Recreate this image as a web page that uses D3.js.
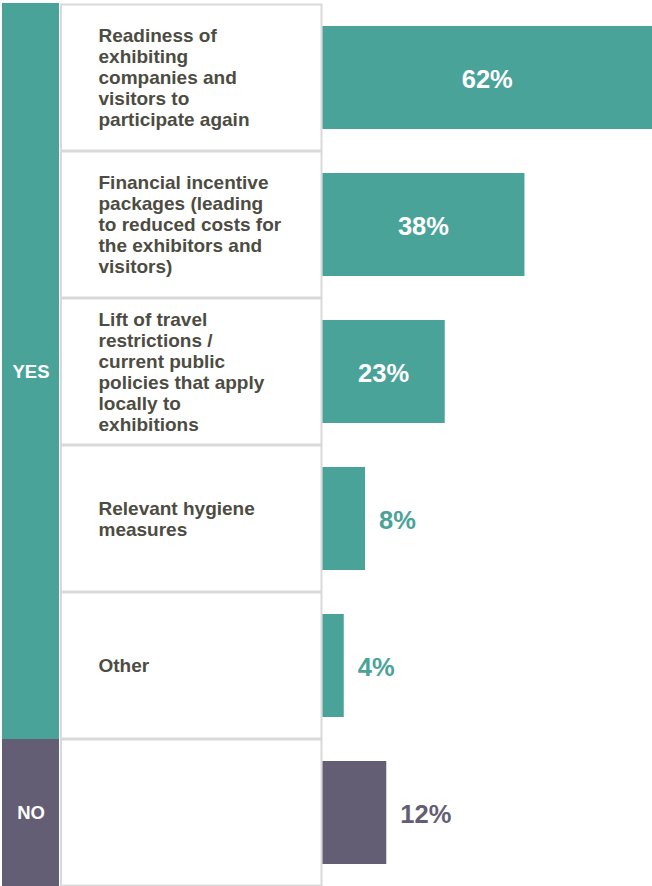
<!DOCTYPE html>
<html>
<head>
<meta charset="utf-8">
<script src="https://cdn.jsdelivr.net/npm/d3@7"></script>
<style>
  html, body { margin: 0; padding: 0; background: #ffffff; }
  svg { display: block; }
</style>
</head>
<body>
<script>
// ---- data ----
const categories = [
  ["Readiness of", "exhibiting", "companies and", "visitors to", "participate again"],
  ["Financial incentive", "packages (leading", "to reduced costs for", "the exhibitors and", "visitors)"],
  ["Lift of travel", "restrictions /", "current public", "policies that apply", "locally to", "exhibitions"],
  ["Relevant hygiene", "measures"],
  ["Other"],
  []
];
const values = [62, 38, 23, 8, 4, 12];
const groups = ["YES", "YES", "YES", "YES", "YES", "NO"];
const groupNames = ["YES", "NO"];
const valueLabels = ["62%", "38%", "23%", "8%", "4%", "12%"];

// ---- layout ----
const W = 652, H = 886;
const colors = { YES: "#4aa399", NO: "#645e75" };
const textColor = "#4d4c42";
const fontFamily = "'Liberation Sans', Arial, Helvetica, sans-serif";

const svg = d3.select("body").append("svg")
  .attr("width", W).attr("height", H);

const idx = d3.range(values.length);
const y = d3.scaleBand().domain(idx).range([4, 886]).padding(0);
const x = d3.scaleLinear().domain([0, 62]).range([322.5, 652]);

// group bands
groupNames.forEach(g => {
  const rows = idx.filter(i => groups[i] === g);
  const y0 = y(rows[0]) - (rows[0] === 0 ? 1 : 0);
  const y1 = y(rows[rows.length - 1]) + y.bandwidth();
  svg.append("rect")
    .attr("x", 2).attr("y", y0)
    .attr("width", 57).attr("height", y1 - y0)
    .attr("fill", colors[g]);
  svg.append("text")
    .attr("x", 31).attr("y", (y0 + y1) / 2)
    .attr("dy", "0.36em")
    .attr("text-anchor", "middle")
    .attr("fill", "#ffffff")
    .attr("font-family", fontFamily)
    .attr("font-weight", "bold")
    .attr("font-size", 18.5)
    .text(g);
});

// label cells
svg.selectAll("rect.cell").data(idx).enter().append("rect")
  .attr("class", "cell")
  .attr("x", 61).attr("y", d => y(d) + 0.5)
  .attr("width", 260.5).attr("height", y.bandwidth() - 1)
  .attr("fill", "#ffffff")
  .attr("stroke", "#d9d9d9")
  .attr("stroke-width", 2);

// label text
const lh = 21;
idx.forEach(i => {
  const lines = categories[i];
  if (!lines.length) return;
  const cy = y(i) + y.bandwidth() / 2;
  const t = svg.append("text")
    .attr("font-family", fontFamily)
    .attr("font-weight", "bold")
    .attr("font-size", 19)
    .attr("fill", textColor);
  const startY = cy - (lines.length - 1) * lh / 2;
  lines.forEach((l, k) => {
    t.append("tspan")
      .attr("x", 98.5)
      .attr("y", startY + k * lh)
      .attr("dy", "0.36em")
      .text(l);
  });
});

// bars
const barH = 103;
svg.selectAll("rect.bar").data(idx).enter().append("rect")
  .attr("class", "bar")
  .attr("x", x(0))
  .attr("y", d => y(d) + (y.bandwidth() - barH) / 2)
  .attr("width", d => x(values[d]) - x(0))
  .attr("height", barH)
  .attr("fill", d => colors[groups[d]]);

// value labels
svg.selectAll("text.val").data(idx).enter().append("text")
  .attr("class", "val")
  .attr("font-family", fontFamily)
  .attr("font-weight", "bold")
  .attr("font-size", 25.5)
  .attr("dy", "0.36em")
  .attr("y", d => y(d) + y.bandwidth() / 2 + 1)
  .attr("x", d => values[d] >= 20 ? (x(0) + x(values[d])) / 2 : x(values[d]) + 14)
  .attr("text-anchor", d => values[d] >= 20 ? "middle" : "start")
  .attr("fill", d => values[d] >= 20 ? "#ffffff" : colors[groups[d]])
  .text(d => valueLabels[d]);
</script>
</body>
</html>
